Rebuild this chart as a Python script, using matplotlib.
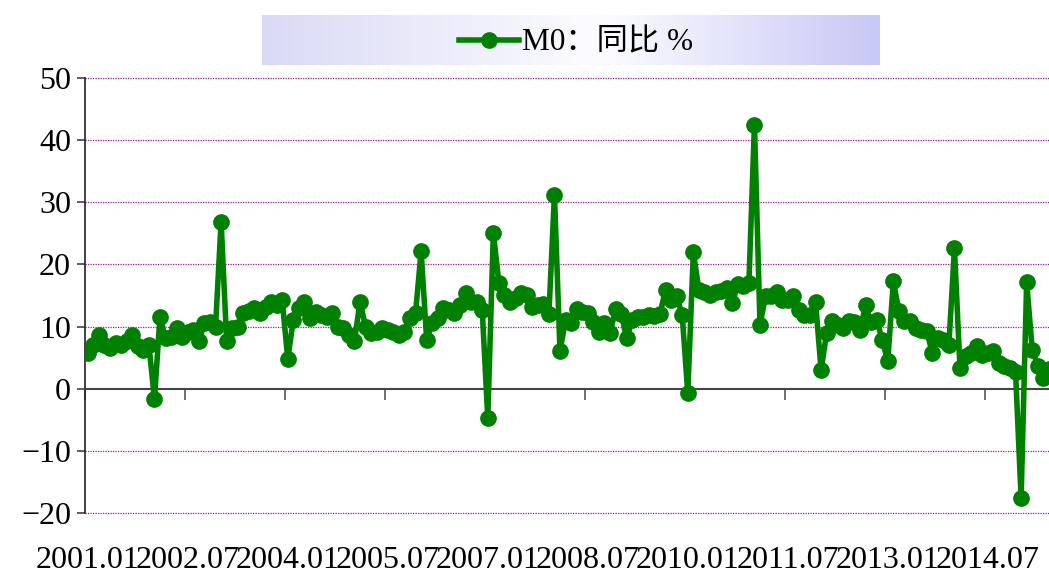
import numpy as np
import matplotlib
matplotlib.use("Agg")
import matplotlib.pyplot as plt
from matplotlib.lines import Line2D

plt.rcParams['font.family'] = ['Liberation Serif', 'Noto Sans CJK SC', 'DejaVu Sans']

# M0 yoy growth, monthly from 2001.01
m0_yoy = [
    5.8, 7.1, 8.7, 7.1, 6.5, 7.4, 7.1, 7.6, 8.7, 6.8, 6.3, 7.1,
    -1.7, 11.6, 8.1, 8.4, 9.8, 8.4, 9.2, 9.5, 7.6, 10.6, 10.8, 10.0,
    26.9, 7.6, 9.8, 10.0, 12.2, 12.5, 13.0, 12.2, 13.2, 14.0, 13.4, 14.2,
    4.8, 11.1, 13.0, 14.0, 11.4, 12.3, 11.9, 11.6, 12.2, 10.0, 9.8, 8.7,
    7.6, 14.0, 10.0, 9.0, 9.2, 9.8, 9.4, 9.2, 8.7, 9.2, 11.4, 12.2,
    22.1, 7.9, 10.6, 11.4, 13.0, 12.7, 12.2, 13.5, 15.4, 14.0, 14.0, 12.7,
    -4.7, 25.1, 17.0, 15.1, 13.9, 14.6, 15.4, 15.1, 13.1, 13.5, 13.7, 12.0,
    31.2, 6.0, 11.1, 10.5, 12.9, 12.4, 12.2, 10.8, 9.2, 10.5, 8.9, 12.8,
    12.1, 8.1, 11.1, 11.6, 11.6, 11.9, 11.7, 12.1, 15.9, 14.3, 14.9, 11.8,
    -0.7, 22.0, 15.9, 15.5, 15.1, 15.5, 15.7, 16.2, 13.8, 16.8, 16.5, 17.0,
    42.5, 10.3, 14.9, 14.9, 15.5, 14.3, 14.2, 14.9, 12.7, 11.8, 11.8, 13.9,
    3.0, 9.0, 10.9, 10.3, 9.8, 10.9, 10.7, 9.5, 13.4, 10.7, 11.0, 7.9,
    4.4, 17.3, 12.5, 10.9, 10.9, 9.8, 9.5, 9.3, 5.8, 8.2, 7.9, 7.1,
    22.6, 3.3, 5.3, 5.8, 6.8, 5.4, 5.8, 6.1, 4.1, 3.7, 3.4, 2.7,
    -17.6, 17.1, 6.3, 3.7, 1.8, 3.1,
]
tick_labels = ['2001.01', '2002.07', '2004.01', '2005.07', '2007.01',
               '2008.07', '2010.01', '2011.07', '2013.01', '2014.07']
label_step = 18
series_name = 'M0：同比 %'

x = np.arange(len(m0_yoy))
green = '#008000'

fig = plt.figure(figsize=(10.49, 5.75), dpi=100)
ax = fig.add_axes([85/1049, 1 - 513/575, 1 - 85/1049, (513 - 78)/575])

ax.plot(x, m0_yoy, color=green, lw=4, marker='o', ms=11, zorder=3,
        label=series_name)

ax.set_ylim(-20, 50)
ax.set_xlim(-0.5, -0.5 + 964 / (100 / 18))
ax.set_yticks(np.arange(-20, 51, 10))
for v in np.arange(-20, 51, 10):
    if v != 0:
        ax.axhline(v, color='#9a1a9a', lw=0.9, ls=(0, (1, 1)), zorder=1,
                   clip_on=False)

for s in ['top', 'right']:
    ax.spines[s].set_visible(False)
ax.spines['left'].set_color('#222222')
ax.spines['left'].set_linewidth(1.2)
ax.spines['bottom'].set_position(('data', 0))
ax.spines['bottom'].set_color('#444444')
ax.spines['bottom'].set_linewidth(1.5)

# tick marks at category group boundaries, labels under the plot
ax.set_xticks(np.arange(-0.5, len(m0_yoy), label_step))
ax.set_xticklabels([])
ax.set_xticks(np.arange(0, label_step * len(tick_labels), label_step), minor=True)
ax.set_xticklabels(tick_labels, minor=True)
ax.tick_params(axis='x', which='major', direction='out', length=8,
               width=1.2, color='#555555')
ax.tick_params(axis='x', which='minor', length=0, pad=113, labelsize=23)
ax.tick_params(axis='y', direction='out', length=6, width=1.1,
               color='#333333', labelsize=23, pad=4)

# gradient legend box
lax = fig.add_axes([262/1049, 1 - 65/575, (880 - 262)/1049, 50/575], zorder=-1)
t = np.linspace(0, 1, 256)
left_c = np.array([218, 218, 246]) / 255
mid_c = np.array([252, 252, 255]) / 255
right_c = np.array([200, 200, 246]) / 255
grad = np.where(t[:, None] < 0.55,
                left_c + (mid_c - left_c) * (t[:, None] / 0.55),
                mid_c + (right_c - mid_c) * ((t[:, None] - 0.55) / 0.45))
lax.imshow(grad[None, :, :], aspect='auto', extent=[0, 1, 0, 1])
lax.set_axis_off()

handle = Line2D([], [], color=green, lw=4, marker='o', ms=11)
fig.legend([handle], [series_name], loc='center',
           bbox_to_anchor=(576/1049, 1 - 43/575), frameon=False,
           fontsize=22.5, handlelength=1.9, handletextpad=0.1)

fig.savefig('out.png', dpi=100)
